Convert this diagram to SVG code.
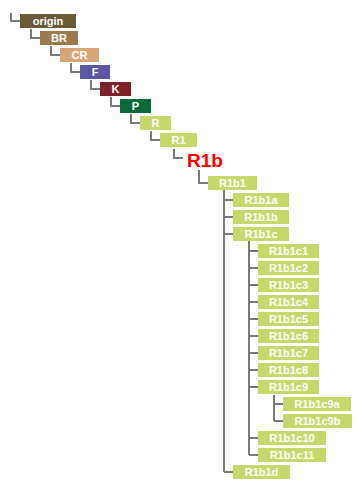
<svg xmlns="http://www.w3.org/2000/svg" width="361" height="486" viewBox="0 0 361 486">
<style>
.l{stroke:#7a7a7a;stroke-width:2;fill:none}
text{font-family:"Liberation Sans",Arial,sans-serif;font-weight:bold;font-size:11px;fill:#fff;text-anchor:middle}
.g{fill:#c6d86c}
.big{font-size:19px;fill:#ff0000;text-anchor:start}
</style>
<rect width="361" height="486" fill="#fff"/>
<g id="connectors">
<path class="l" d="M11 13V21H20M31 29V38H40M51 46V55H60M71 63V72H80M91 80V89H100M111 97V106H120M131 114V123H140M151 131V140H160M174 149V158H183M199 170V183H208"/>
<path class="l" d="M224 190V472M224 200H233M224 217H233M224 234H233M224 472H233"/>
<path class="l" d="M249 241V455M249 251H258M249 268H258M249 285H258M249 302H258M249 319H258M249 336H258M249 353H258M249 370H258M249 387H258M249 438H258M249 455H258"/>
<path class="l" d="M274 395V421M274 404H283M274 421H283"/>
</g>
<g id="origin"><rect x="20" y="14" width="56" height="14" fill="#6b5a37"/><text x="48" y="25">origin</text></g>
<g id="BR"><rect x="40" y="31" width="38" height="14" fill="#9b7b4e"/><text x="59" y="42">BR</text></g>
<g id="CR"><rect x="60" y="48" width="39" height="14" fill="#d5a676"/><text x="79.5" y="59">CR</text></g>
<g id="F"><rect x="80" y="65" width="30" height="14" fill="#5b57a6"/><text x="95" y="76">F</text></g>
<g id="K"><rect x="100" y="82" width="31" height="14" fill="#7b2127"/><text x="115.5" y="93">K</text></g>
<g id="P"><rect x="120" y="99" width="31" height="14" fill="#0b6a3a"/><text x="135.5" y="110">P</text></g>
<g id="R"><rect class="g" x="140" y="116" width="31" height="14"/><text x="155.5" y="127">R</text></g>
<g id="R1"><rect class="g" x="160" y="133" width="37" height="14"/><text x="178.5" y="144">R1</text></g>
<g id="R1b"><text class="big" x="187" y="167">R1b</text></g>
<g id="R1b1"><rect class="g" x="208" y="176" width="49" height="14"/><text x="232.5" y="187">R1b1</text></g>
<g id="R1b1a"><rect class="g" x="233" y="193" width="56" height="14"/><text x="261" y="204">R1b1a</text></g>
<g id="R1b1b"><rect class="g" x="233" y="210" width="56" height="14"/><text x="261" y="221">R1b1b</text></g>
<g id="R1b1c"><rect class="g" x="233" y="227" width="56" height="14"/><text x="261" y="238">R1b1c</text></g>
<g id="R1b1c1"><rect class="g" x="258" y="244" width="61" height="14"/><text x="288.5" y="255">R1b1c1</text></g>
<g id="R1b1c2"><rect class="g" x="258" y="261" width="61" height="14"/><text x="288.5" y="272">R1b1c2</text></g>
<g id="R1b1c3"><rect class="g" x="258" y="278" width="61" height="14"/><text x="288.5" y="289">R1b1c3</text></g>
<g id="R1b1c4"><rect class="g" x="258" y="295" width="61" height="14"/><text x="288.5" y="306">R1b1c4</text></g>
<g id="R1b1c5"><rect class="g" x="258" y="312" width="61" height="14"/><text x="288.5" y="323">R1b1c5</text></g>
<g id="R1b1c6"><rect class="g" x="258" y="329" width="61" height="14"/><text x="288.5" y="340">R1b1c6</text></g>
<g id="R1b1c7"><rect class="g" x="258" y="346" width="61" height="14"/><text x="288.5" y="357">R1b1c7</text></g>
<g id="R1b1c8"><rect class="g" x="258" y="363" width="61" height="14"/><text x="288.5" y="374">R1b1c8</text></g>
<g id="R1b1c9"><rect class="g" x="258" y="380" width="61" height="14"/><text x="288.5" y="391">R1b1c9</text></g>
<g id="R1b1c9a"><rect class="g" x="283" y="397" width="68" height="14"/><text x="317" y="408">R1b1c9a</text></g>
<g id="R1b1c9b"><rect class="g" x="283" y="414" width="69" height="14"/><text x="317.5" y="425">R1b1c9b</text></g>
<g id="R1b1c10"><rect class="g" x="258" y="431" width="68" height="14"/><text x="292" y="442">R1b1c10</text></g>
<g id="R1b1c11"><rect class="g" x="258" y="448" width="68" height="14"/><text x="292" y="459">R1b1c11</text></g>
<g id="R1b1d"><rect class="g" x="233" y="465" width="57" height="14"/><text x="261.5" y="476">R1b1d</text></g>
</svg>
